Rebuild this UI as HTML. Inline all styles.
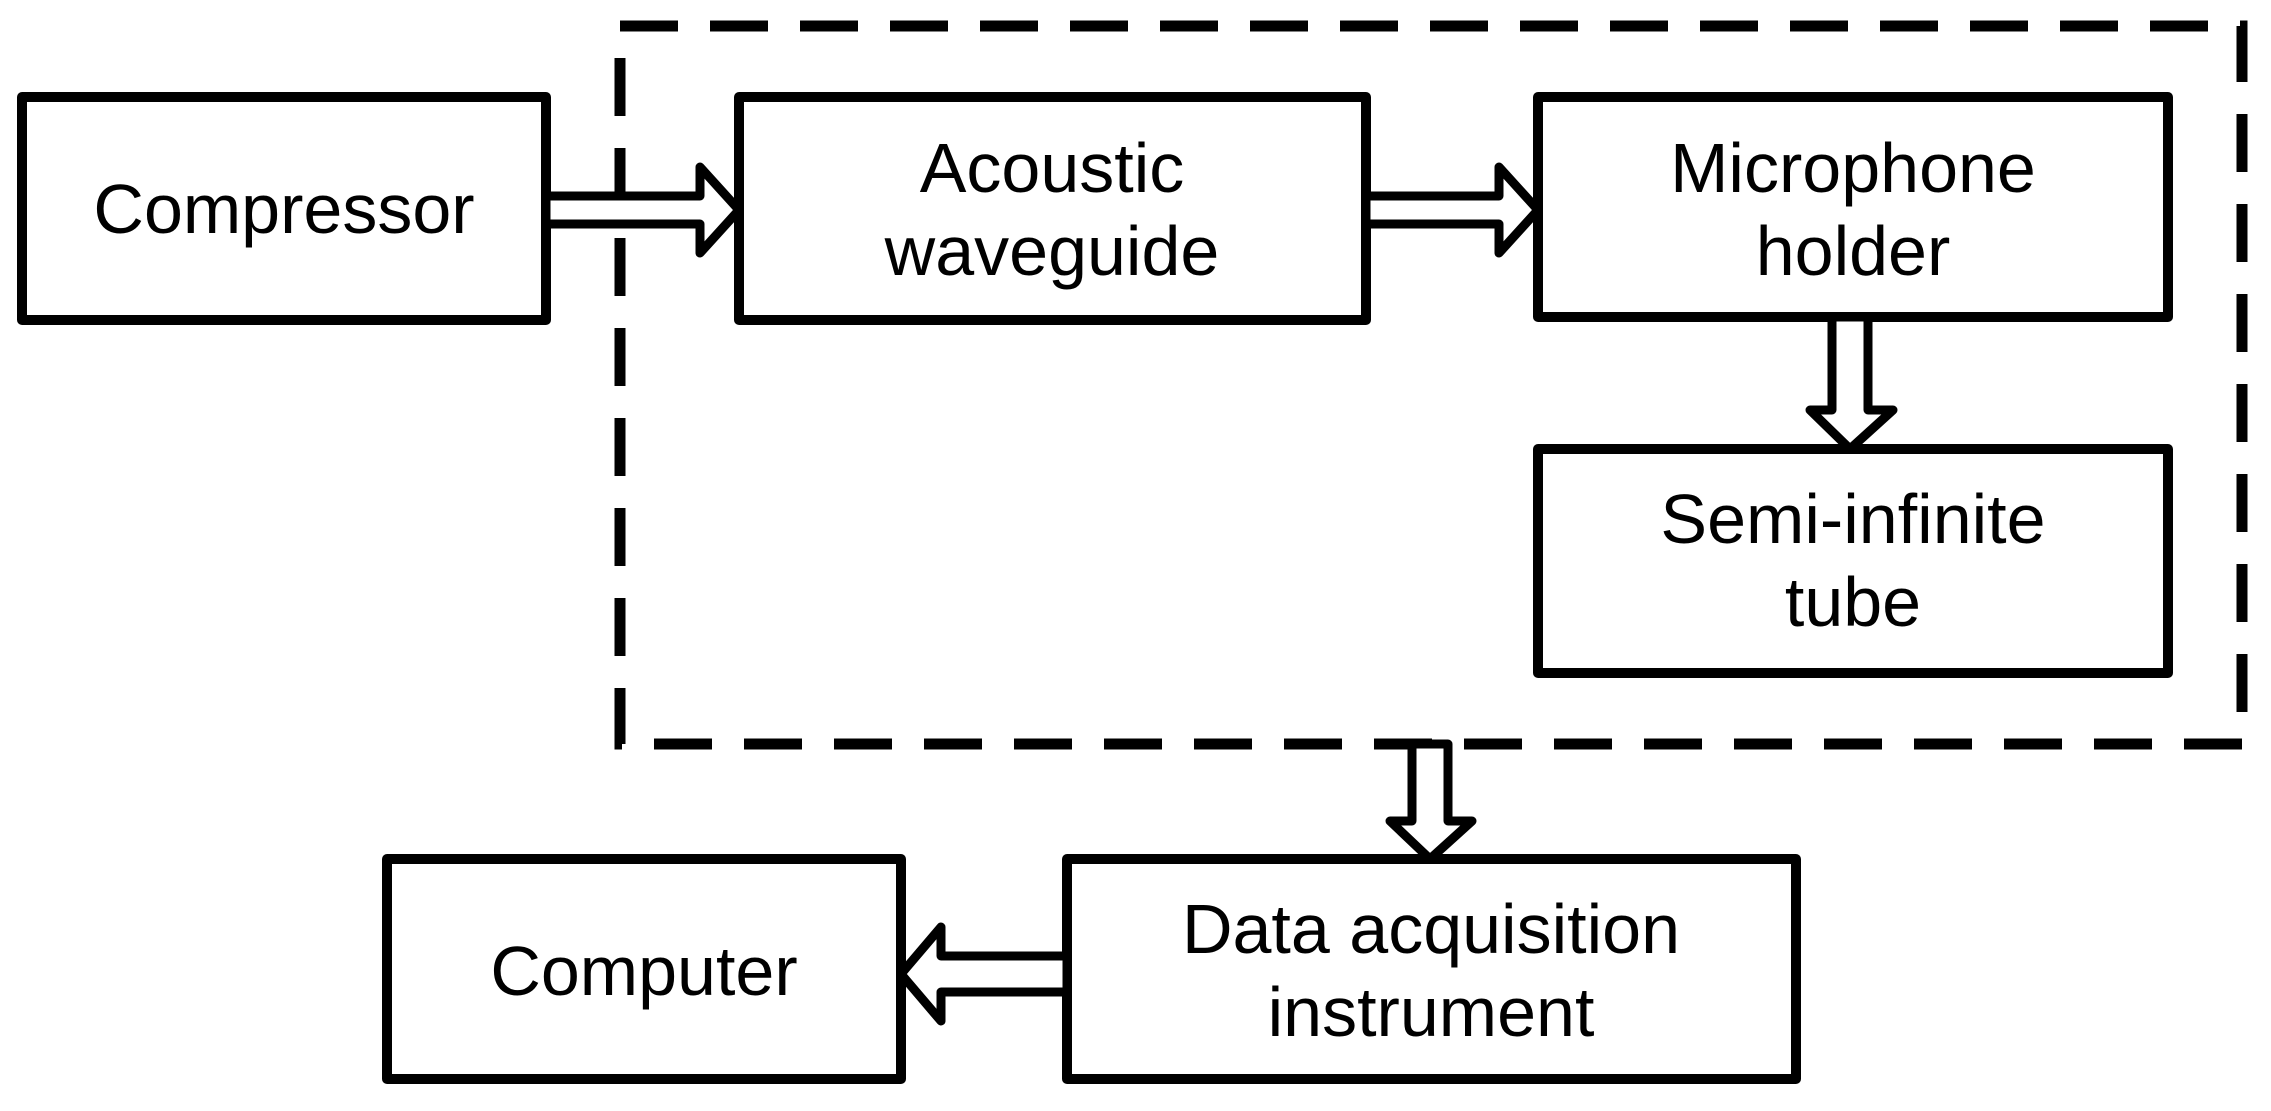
<!DOCTYPE html>
<html><head><meta charset="utf-8"><style>
html,body{margin:0;padding:0;background:#fff;}
svg{display:block;}
text{font-family:"Liberation Sans",sans-serif;font-size:70px;fill:#000;text-anchor:middle;}
</style></head><body>
<svg width="2271" height="1111" viewBox="0 0 2271 1111" xmlns="http://www.w3.org/2000/svg">
<g fill="#fff" stroke="#000" stroke-width="10" stroke-linejoin="round">
<rect x="620" y="26" width="1622" height="718" fill="none" stroke-width="11" stroke-dasharray="58 32" stroke-linecap="butt" stroke-linejoin="miter"/>
<rect x="22" y="97" width="524" height="223"/>
<rect x="739" y="97" width="627" height="223"/>
<rect x="1538" y="97" width="630" height="220"/>
<rect x="1538" y="449" width="630" height="224"/>
<rect x="1067" y="859" width="729" height="220"/>
<rect x="387" y="859" width="514" height="220"/>
<g stroke-width="9">
<polygon points="546,196 700,196 700,167 739,210 700,253 700,224 546,224"/>
<polygon points="1366,196 1499,196 1499,167 1538,210 1499,253 1499,224 1366,224"/>
<polygon points="1832,317 1832,410 1810,410 1850,449 1893,410 1868,410 1868,317"/>
<polygon points="1412,744 1412,821 1390,821 1430,859 1472,821 1448,821 1448,744"/>
<polygon points="1067,956 941,956 941,927 901,974 941,1021 941,992 1067,992"/>
</g>
</g>
<text x="284" y="233">Compressor</text>
<text x="1052" y="192">Acoustic</text>
<text x="1052" y="275">waveguide</text>
<text x="1853" y="192">Microphone</text>
<text x="1853" y="275">holder</text>
<text x="1853" y="543">Semi-infinite</text>
<text x="1853" y="626">tube</text>
<text x="1431" y="953">Data acquisition</text>
<text x="1431" y="1036">instrument</text>
<text x="644" y="995">Computer</text>
</svg>
</body></html>
